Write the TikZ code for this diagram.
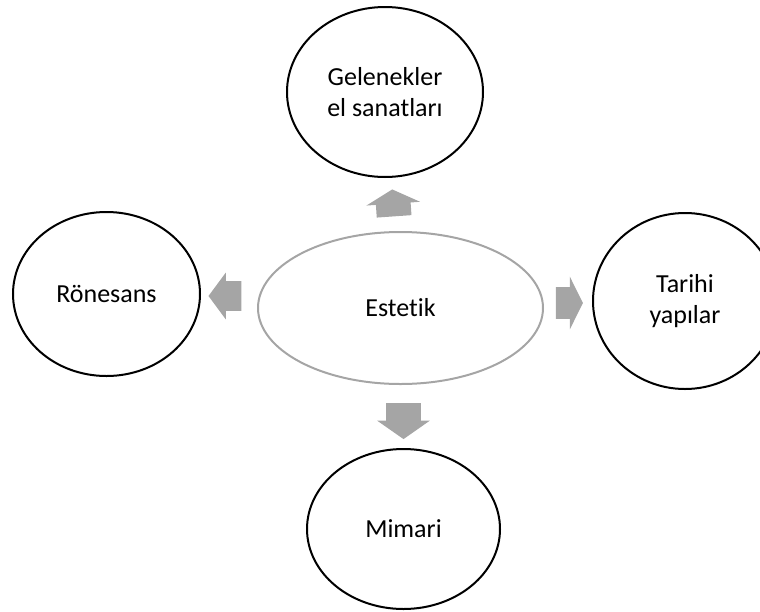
\documentclass[tikz,border=0pt]{standalone}
\usepackage{fontspec}
\setmainfont{Carlito}[Ligatures=NoCommon]
\usetikzlibrary{shapes.geometric,shapes.arrows}
\definecolor{arrowgray}{HTML}{A5A5A5}

\begin{document}
\begin{tikzpicture}[x=0.5pt, y=-0.5pt,
  bubble/.style={shape=ellipse, draw=black, line width=1pt, inner sep=0pt, align=center,
    font=\fontsize{13}{15.5}\selectfont},
  blockarrow/.style={single arrow, fill=arrowgray, draw=none, inner xsep=0pt}]
\useasboundingbox (0,0) rectangle (760,611);
\node[bubble, draw=arrowgray, minimum width=142.5pt, minimum height=76pt] (estetik) at (400.5,308) {Estetik};
\node[bubble, minimum width=98pt, minimum height=85pt] (gelenek) at (385,92) {Gelenekler\\el sanatları};
\node[bubble, minimum width=93.5pt, minimum height=82pt] (ronesans) at (106.5,294) {Rönesans};
\node[bubble, minimum width=92pt, minimum height=88pt] (tarihi) at (685,301) {Tarihi\\yapılar};
\node[bubble, minimum width=96.5pt, minimum height=80pt] (mimari) at (403.5,529) {Mimari};
% block arrows
\node[blockarrow, inner ysep=8.5pt, minimum height=13.5pt, single arrow head extend=4.75pt,
  single arrow tip angle=124, rotate=94] (aup) at (393.5,207.5) {};
\node[blockarrow, inner ysep=7.25pt, minimum height=16.5pt, single arrow head extend=4.25pt,
  single arrow tip angle=107, rotate=180] (aleft) at (230.5,296) {};
\node[blockarrow, inner ysep=7.75pt, minimum height=13.5pt, single arrow head extend=5.25pt,
  single arrow tip angle=127] (aright) at (565.5,303) {};
\node[blockarrow, inner ysep=8.5pt, minimum height=18pt, single arrow head extend=4.5pt,
  single arrow tip angle=110, rotate=270] (adown) at (403.5,415) {};
\end{tikzpicture}
\end{document}
